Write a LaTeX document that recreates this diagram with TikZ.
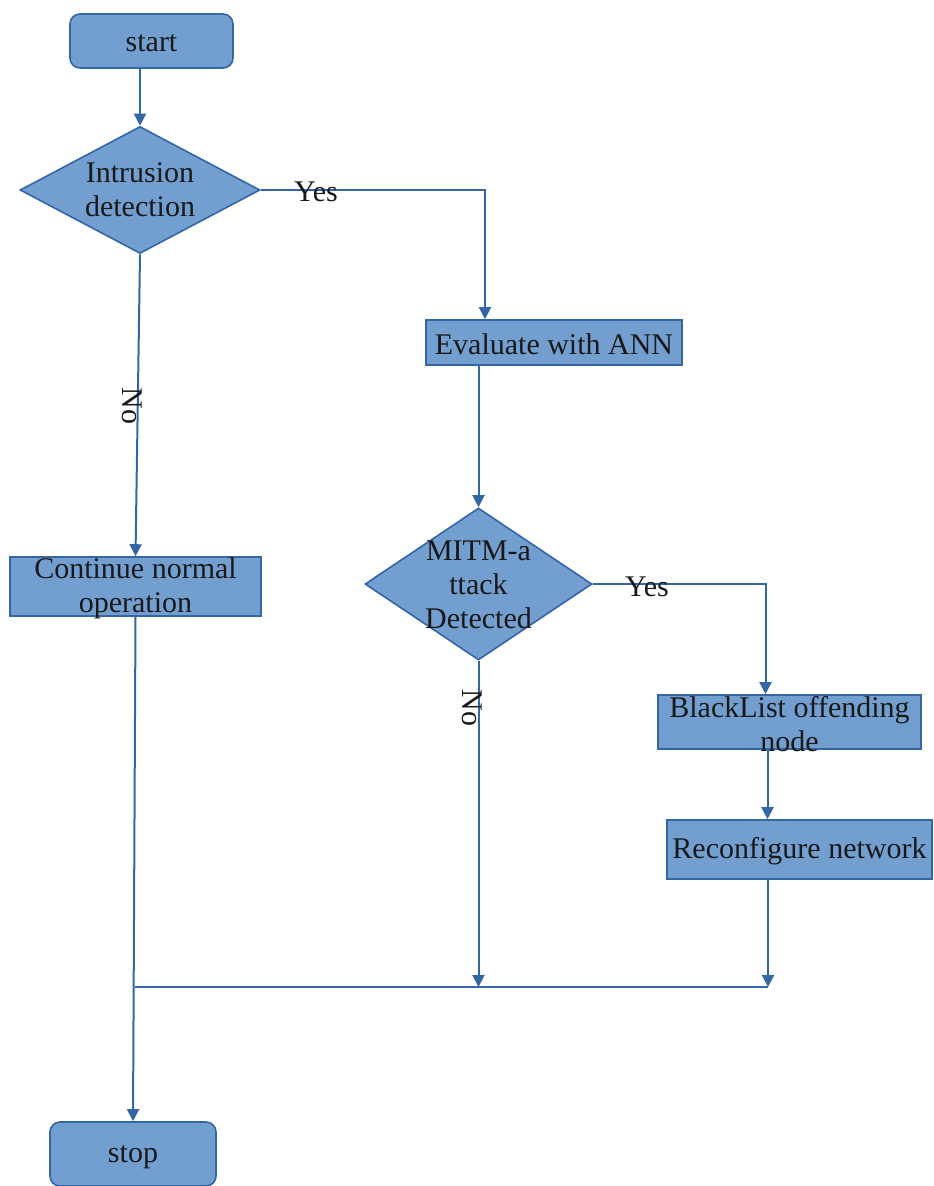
\documentclass[tikz,border=0pt]{standalone}
\usepackage{fontspec}
\setmainfont{Liberation Serif}
\usetikzlibrary{shapes.geometric,arrows.meta}
\definecolor{boxfill}{HTML}{729FCF}
\definecolor{boxline}{HTML}{3465A4}
\begin{document}
\begin{tikzpicture}[x=1pt,y=-1pt,
  every node/.style={font=\fontsize{30}{34}\selectfont, text=black!90},
  term/.style={draw=boxline, fill=boxfill, rounded corners=10pt, line width=1.6pt, inner sep=0pt},
  proc/.style={draw=boxline, fill=boxfill, line width=1.6pt, inner sep=0pt},
  dec/.style={diamond, draw=boxline, fill=boxfill, line width=1.6pt, inner sep=0pt},
  lbl/.style={inner sep=0pt, align=center},
  wire/.style={draw=boxline, line width=2pt},
  conn/.style={wire, -{Triangle[length=12pt,width=12pt]}}]
\useasboundingbox (0,0) rectangle (934,1186);
% nodes
\node[term, minimum width=163, minimum height=54] (start) at (151.5,41) {};
\node[lbl] (startt) at (151.5,43) {start};
\node[dec, minimum width=240, minimum height=127] (d1) at (140,190) {};
\node[lbl] (d1t) at (140,190) {Intrusion\\detection};
\node[proc, minimum width=256, minimum height=45] (eval) at (554,342.5) {};
\node[lbl] (evalt) at (554,344) {Evaluate with ANN};
\node[dec, minimum width=227, minimum height=152] (d2) at (478.5,584) {};
\node[lbl] (d2t) at (478.5,585) {MITM-a\\ttack\\Detected};
\node[proc, minimum width=251, minimum height=59] (cont) at (135.5,586.5) {};
\node[lbl] (contt) at (135.5,588) {Continue normal\\operation};
\node[proc, minimum width=263, minimum height=54] (black) at (789.5,722) {};
\node[lbl] (blackt) at (789.5,724) {BlackList offending\\node};
\node[proc, minimum width=265, minimum height=59] (reconf) at (799.5,849.5) {};
\node[lbl] (reconft) at (799.5,851) {Reconfigure network};
\node[term, minimum width=166, minimum height=64] (stop) at (133,1154) {};
\node[lbl] (stopt) at (133,1157) {stop};
\coordinate (jL) at (135,987);
\coordinate (jR) at (768,987);
% connectors
\draw[conn] (d1.north |- start.south) -- (d1.north);
\draw[conn] (d1.east) -| ([xshift=-69pt]eval.north);
\node[lbl] (yes1) at (316,192) {Yes};
\draw[conn] (d2.north |- eval.south) -- (d2.north);
\draw[conn] (d2.east) -| ([xshift=-24pt]black.north);
\node[lbl] (yes2) at (647,587) {Yes};
\draw[conn] ([xshift=-22pt]black.south) -- ([xshift=-22pt]black.south |- reconf.north);
\draw[conn] (reconf.south -| jR) -- (jR);
\draw[conn] (d2.south) -- (d2.south |- jR);
\node[lbl, rotate=-90] (no2) at (472,708) {No};
\draw[wire] (jL) -- (jR);
\draw[conn] (d1.south) -- (cont.north);
\node[lbl, rotate=-90] (no1) at (132,406) {No};
\draw[conn] (cont.south) -- (stop.north);
\end{tikzpicture}
\end{document}
